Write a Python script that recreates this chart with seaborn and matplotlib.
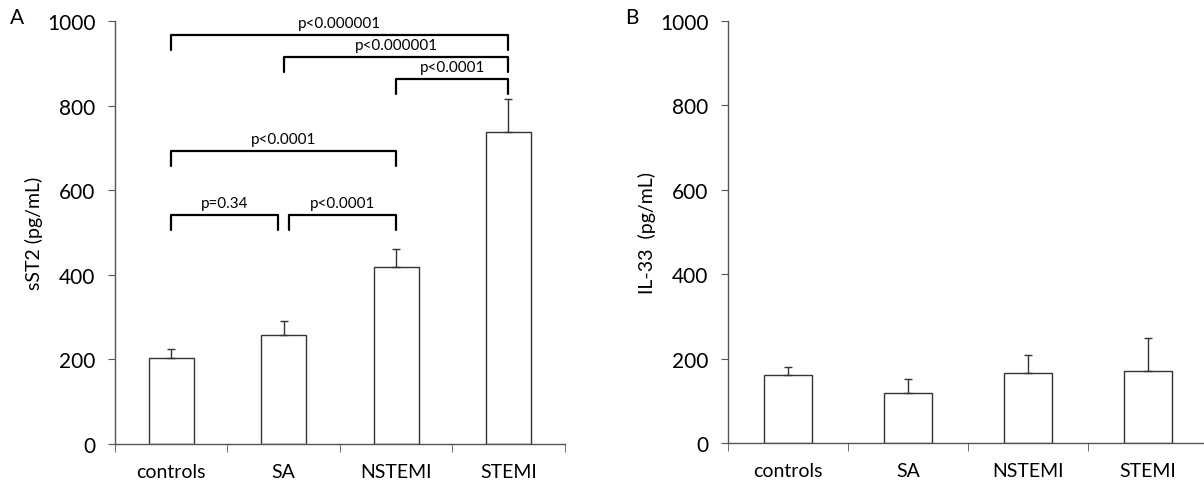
import numpy as np
import pandas as pd
import matplotlib
matplotlib.use("Agg")
import matplotlib.pyplot as plt
import seaborn as sns

# data
groups = ["controls", "SA", "NSTEMI", "STEMI"]
sst2_mean = [204, 258, 418, 738]
sst2_err = [20, 32, 44, 78]
il33_mean = [162, 119, 165, 170]
il33_err = [17, 32, 44, 78]

# significance brackets for panel A: (left group, right group, level, label)
brackets = [
    ("controls", "SA", 541, "p=0.34"),
    ("SA", "NSTEMI", 541, "p<0.0001"),
    ("controls", "NSTEMI", 693, "p<0.0001"),
    ("NSTEMI", "STEMI", 863, "p<0.0001"),
    ("SA", "STEMI", 915, "p<0.000001"),
    ("controls", "STEMI", 967, "p<0.000001"),
]

sns.set_style("white")
plt.rcParams["font.family"] = ["Lato", "DejaVu Sans"]
plt.rcParams["text.color"] = "black"
plt.rcParams["axes.labelcolor"] = "black"
plt.rcParams["xtick.color"] = "black"
plt.rcParams["ytick.color"] = "black"

fig = plt.figure(figsize=(12.04, 4.85), dpi=100)
axA = fig.add_axes([0.0955, 0.0825, 0.3735, 0.872])
axB = fig.add_axes([0.6047, 0.0845, 0.3985, 0.870])

axis_col = "#555555"


def draw_panel(ax, means, errs, ylabel):
    df = pd.DataFrame({"group": groups, "value": means})
    sns.barplot(data=df, x="group", y="value", order=groups, ax=ax,
                color="white", edgecolor="#333333", linewidth=1.0,
                width=0.4, errorbar=None)
    ax.errorbar(np.arange(len(groups)), means,
                yerr=[np.zeros(len(errs)), errs], fmt="none",
                ecolor="#333333", elinewidth=1.0, capsize=3, capthick=1.0)
    ax.set_xlim(-0.5, len(groups) - 0.5)
    ax.set_ylim(0, 1000)
    ax.set_yticks(range(0, 1001, 200))
    ax.set_xticks(range(len(groups)))
    ax.set_xticklabels(groups)
    ax.set_xticks(np.arange(-0.5, len(groups)), minor=True)
    ax.tick_params(axis="x", which="major", length=0, pad=14, labelsize=14)
    ax.tick_params(axis="x", which="minor", length=6, direction="out",
                   color=axis_col, bottom=True)
    ax.tick_params(axis="y", length=5, direction="out", color=axis_col,
                   left=True, labelsize=15, pad=9)
    ax.set_xlabel("")
    ax.set_ylabel(ylabel, fontsize=14, labelpad=3)
    sns.despine(ax=ax)
    for s in ["left", "bottom"]:
        ax.spines[s].set_color(axis_col)
        ax.spines[s].set_linewidth(1.0)


draw_panel(axA, sst2_mean, sst2_err, "sST2 (pg/mL)")
draw_panel(axB, il33_mean, il33_err, "IL-33  (pg/mL)")

pos = {g: i for i, g in enumerate(groups)}
for left, right, level, label in brackets:
    x1 = pos[left]
    x2 = pos[right]
    # small offset where two brackets meet at the SA bar
    if left == "controls" and right == "SA":
        x2 -= 0.05
    if left == "SA" and right == "NSTEMI":
        x1 += 0.05
    axA.plot([x1, x1, x2, x2], [level - 35, level, level, level - 35],
             color="black", linewidth=1.6, clip_on=False)
    axA.text((x1 + x2) / 2, level + 12, label, ha="center", va="bottom",
             fontsize=11)

fig.text(0.008, 0.95, "A", fontsize=15)
fig.text(0.519, 0.95, "B", fontsize=15)

fig.savefig("out.png", dpi=100)
